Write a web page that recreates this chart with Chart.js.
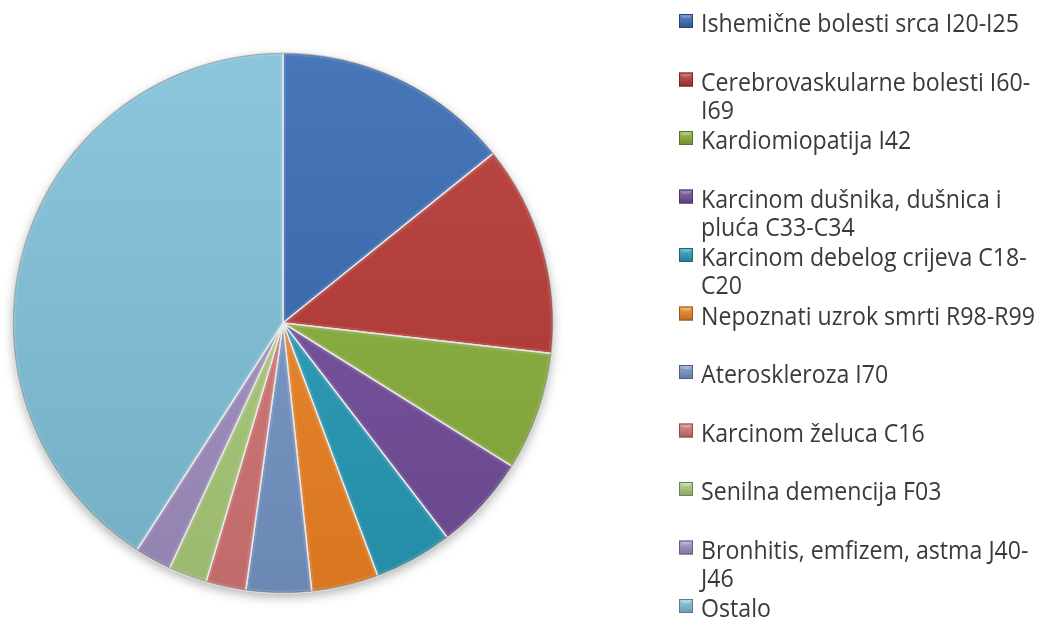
<!DOCTYPE html>
<html>
<head>
<meta charset="utf-8">
<script src="https://cdn.jsdelivr.net/npm/chart.js"></script>
<style>
  html, body { margin: 0; padding: 0; background: #fff; }
  #wrap { width: 1043px; height: 623px; position: relative; }
</style>
</head>
<body>
<div id="wrap"><canvas id="pieChart"></canvas></div>
<script>
// Uzroci smrti - udio (%)
const categories = [
  ['Ishemične bolesti srca I20-I25'],
  ['Cerebrovaskularne bolesti I60-', 'I69'],
  ['Kardiomiopatija I42'],
  ['Karcinom dušnika, dušnica i', 'pluća C33-C34'],
  ['Karcinom debelog crijeva C18-', 'C20'],
  ['Nepoznati uzrok smrti R98-R99'],
  ['Ateroskleroza I70'],
  ['Karcinom želuca C16'],
  ['Senilna demencija F03'],
  ['Bronhitis, emfizem, astma J40-', 'J46'],
  ['Ostalo']
];
const values = [14.2, 12.6, 7.1, 5.7, 4.7, 4.0, 3.9, 2.4, 2.3, 2.2, 40.9];
const sliceColors = ['#376BB3', '#B73935', '#8AB13C', '#744E9C', '#289CBA', '#F08424',
                     '#7797C9', '#D57775', '#ABCC7A', '#A290C3', '#81C1DA'];

// mix a hex colour with white (amt > 0) or black (amt < 0)
function shade(hex, amt) {
  const n = parseInt(hex.slice(1), 16);
  let r = (n >> 16) & 255, g = (n >> 8) & 255, b = n & 255;
  const t = amt < 0 ? 0 : 255, p = Math.abs(amt);
  r = Math.round(r + (t - r) * p);
  g = Math.round(g + (t - g) * p);
  b = Math.round(b + (t - b) * p);
  return 'rgb(' + r + ',' + g + ',' + b + ')';
}

function arcPath(ctx, arc) {
  ctx.beginPath();
  ctx.moveTo(arc.x, arc.y);
  ctx.arc(arc.x, arc.y, arc.outerRadius, arc.startAngle, arc.endAngle);
  ctx.closePath();
}

// soft shadow under the pie
const shadowPlugin = {
  id: 'pieShadow',
  beforeDatasetsDraw(chart) {
    const arc = chart.getDatasetMeta(0).data[0];
    if (!arc) return;
    const ctx = chart.ctx;
    ctx.save();
    ctx.shadowColor = 'rgba(0,0,0,0.35)';
    ctx.shadowBlur = 12;
    ctx.shadowOffsetY = 4;
    ctx.beginPath();
    ctx.arc(arc.x, arc.y, arc.outerRadius - 1, 0, Math.PI * 2);
    ctx.fillStyle = '#fff';
    ctx.fill();
    ctx.restore();
  },
  afterDatasetsDraw(chart) {
    const ctx = chart.ctx;
    const arcs = chart.getDatasetMeta(0).data;
    // bevel: light inner edge on every slice
    arcs.forEach(function(arc) {
      ctx.save();
      arcPath(ctx, arc);
      ctx.clip();
      arcPath(ctx, arc);
      ctx.lineWidth = 6;
      ctx.strokeStyle = 'rgba(255,255,255,0.1)';
      ctx.stroke();
      ctx.restore();
    });
    // darker outer rim
    const a = arcs[0];
    ctx.save();
    ctx.beginPath();
    ctx.arc(a.x, a.y, a.outerRadius - 0.5, 0, Math.PI * 2);
    ctx.lineWidth = 1.2;
    ctx.strokeStyle = 'rgba(0,0,0,0.25)';
    ctx.stroke();
    ctx.restore();
  }
};

// legend on the right, with wrapped lines
const sideLegend = {
  id: 'sideLegend',
  afterDraw(chart) {
    const ctx = chart.ctx;
    ctx.save();
    ctx.font = '25px "Open Sans"';
    const sx = 318 / ctx.measureText(categories[0][0]).width;
    categories.forEach(function(lines, i) {
      const y = 32 + i * 58.5;
      const c = sliceColors[i];
      // marker
      const mx = 679, my = y - 18, ms = 14;
      const g = ctx.createLinearGradient(0, my, 0, my + ms);
      g.addColorStop(0, shade(c, 0.2));
      g.addColorStop(1, shade(c, -0.2));
      ctx.fillStyle = g;
      ctx.fillRect(mx, my, ms, ms);
      ctx.fillStyle = shade(c, 0.3);
      ctx.beginPath();
      ctx.moveTo(mx + 1, my + 1);
      ctx.lineTo(mx + ms - 1, my + 1);
      ctx.lineTo(mx + ms - 4, my + 4);
      ctx.lineTo(mx + 4, my + 4);
      ctx.closePath();
      ctx.fill();
      ctx.strokeStyle = shade(c, -0.35);
      ctx.lineWidth = 1;
      ctx.strokeRect(mx + 0.5, my + 0.5, ms - 1, ms - 1);
      // text
      lines.forEach(function(line, j) {
        ctx.save();
        ctx.translate(701, y + j * 28);
        ctx.scale(sx, 1);
        ctx.fillStyle = '#3a3a3a';
        ctx.textBaseline = 'alphabetic';
        ctx.fillText(line, 0, 0);
        ctx.restore();
      });
    });
    ctx.restore();
  }
};

const ctx = document.getElementById('pieChart').getContext('2d');
new Chart(ctx, {
  type: 'pie',
  data: {
    labels: categories,
    datasets: [{
      data: values,
      backgroundColor: function(context) {
        const chart = context.chart;
        const area = chart.chartArea;
        const base = sliceColors[context.dataIndex];
        if (!area) return base;
        const g = chart.ctx.createLinearGradient(0, area.top, 0, area.bottom);
        g.addColorStop(0, shade(base, 0.08));
        g.addColorStop(1, shade(base, -0.1));
        return g;
      },
      borderColor: '#e6e6e6',
      borderWidth: 1.5
    }]
  },
  options: {
    responsive: true,
    maintainAspectRatio: false,
    animation: false,
    layout: {
      padding: { left: 12, top: 52, right: 489, bottom: 29 }
    },
    plugins: {
      legend: { display: false },
      tooltip: { enabled: false }
    }
  },
  plugins: [shadowPlugin, sideLegend]
});
</script>
</body>
</html>
